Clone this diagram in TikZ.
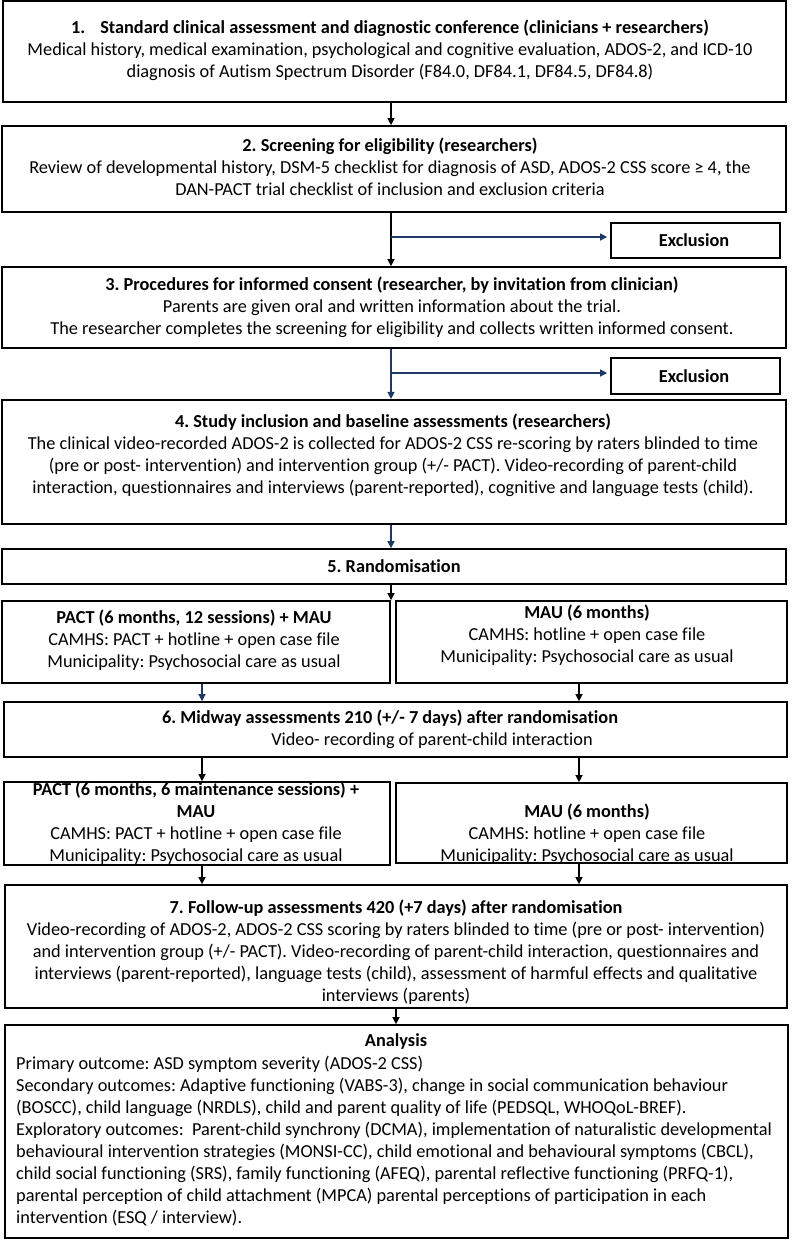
\documentclass[tikz,border=0pt]{standalone}
\usepackage{fontspec}
\setmainfont{Carlito}[Ligatures=NoCommon]
\frenchspacing
\usetikzlibrary{arrows.meta,fit}
\definecolor{navy}{RGB}{31,56,100}

\begin{document}
\begin{tikzpicture}[x=1pt,y=-1pt,
  box/.style={draw,line width=1.7pt,inner sep=0pt},
  txt/.style={align=center,inner sep=0pt,font=\fontsize{18.3}{22}\selectfont},
  arr/.style={line width=1.3pt,-{Triangle[length=7pt,width=7pt]}},
  blu/.style={arr,draw=navy}]

 \useasboundingbox (0,0) rectangle (792,1240);

% Boxes, top to bottom
 \node[box,line width=2.4pt,fit={(3,1) (786,102)}] (b1) {};
 \node[box,fit={(2,126) (786,212)}] (b2) {};
 \node[box,fit={(611,223) (780,258)}] (ex1) {};
 \node[box,fit={(2,267) (786,348)}] (b3) {};
 \node[box,fit={(611,358) (780,394)}] (ex2) {};
 \node[box,line width=2.2pt,fit={(2,400) (786,524)}] (b4) {};
 \node[box,fit={(2,549) (786,584)}] (b5) {};
 \node[box,fit={(2,601) (390,683)}] (p1) {}; % PACT arm
 \node[box,fit={(396,601) (787,683)}] (m1) {}; % MAU arm
 \node[box,fit={(4,702) (787,757)}] (b6) {};
 \node[box,fit={(4,782) (390,865)}] (p2) {};
 \node[box,fit={(396,783) (787,863)}] (m2) {};
 \node[box,fit={(5,885) (787,1008)}] (b7) {};
 \node[box,fit={(5,1025) (788,1238)}] (an) {};

% Texts
 \node[txt] (t1) at (390,50) {\textbf{1.\hspace{15pt}Standard clinical assessment and diagnostic conference (clinicians + researchers)}\\
   Medical history, medical examination, psychological and cognitive evaluation, ADOS-2, and ICD-10\\
   diagnosis of Autism Spectrum Disorder (F84.0, DF84.1, DF84.5, DF84.8)};
 \node[txt] (t2) at (390,167) {\textbf{2. Screening for eligibility (researchers)}\\
   Review of developmental history, DSM-5 checklist for diagnosis of ASD, ADOS-2 CSS score ≥ 4, the\\
   DAN-PACT trial checklist of inclusion and exclusion criteria};
 \node[txt] (tex1) at (694,240.5) {\textbf{Exclusion}};
 \node[txt] (t3) at (392,307.5) {\textbf{3. Procedures for informed consent (researcher, by invitation from clinician)}\\
   Parents are given oral and written information about the trial.\\
   The researcher completes the screening for eligibility and collects written informed consent.};
 \node[txt] (tex2) at (694,376) {\textbf{Exclusion}};
 \node[txt] (t4) at (393,455.5) {\textbf{4. Study inclusion and baseline assessments (researchers)}\\
   The clinical video-recorded ADOS-2 is collected for ADOS-2 CSS re-scoring by raters blinded to time\\
   (pre or post- intervention) and intervention group (+/- PACT). Video-recording of parent-child\\
   interaction, questionnaires and interviews (parent-reported), cognitive and language tests (child).};
 \node[txt] (t5) at (394,566) {\textbf{5. Randomisation}};
 \node[txt] (tp1) at (194,640) {\textbf{PACT (6 months, 12 sessions) + MAU}\\
   CAMHS: PACT + hotline + open case file\\
   Municipality: Psychosocial care as usual};
 \node[txt] (tm1) at (587,635) {\textbf{MAU (6 months)}\\
   CAMHS: hotline + open case file\\
   Municipality: Psychosocial care as usual};
 \node[txt] (t6) at (390,729) {\textbf{6. Midway assessments 210 (+/- 7 days) after randomisation}\\
   \hspace*{84pt}Video- recording of parent-child interaction};
 \node[txt] (tp2) at (196,823) {\textbf{PACT (6 months, 6 maintenance sessions) +}\\
   \textbf{MAU}\\
   CAMHS: PACT + hotline + open case file\\
   Municipality: Psychosocial care as usual};
 \node[txt] (tm2) at (587,834.5) {\textbf{MAU (6 months)}\\
   CAMHS: hotline + open case file\\
   Municipality: Psychosocial care as usual};
 \node[txt] (t7) at (396,952.5) {\textbf{7. Follow-up assessments 420 (+7 days) after randomisation}\\
   Video-recording of ADOS-2, ADOS-2 CSS scoring by raters blinded to time (pre or post- intervention)\\
   and intervention group (+/- PACT). Video-recording of parent-child interaction, questionnaires and\\
   interviews (parent-reported), language tests (child), assessment of harmful effects and qualitative\\
   interviews (parents)};
 \node[txt] (tan) at (396,1042) {\textbf{Analysis}};
 \node[txt,align=left,anchor=west] (tout) at (16,1141.5) {Primary outcome: ASD symptom severity (ADOS-2 CSS)\\
   Secondary outcomes: Adaptive functioning (VABS-3), change in social communication behaviour\\
   (BOSCC), child language (NRDLS), child and parent quality of life (PEDSQL, WHOQoL-BREF).\\
   Exploratory outcomes:\ \ Parent-child synchrony (DCMA), implementation of naturalistic developmental\\
   behavioural intervention strategies (MONSI-CC), child emotional and behavioural symptoms (CBCL),\\
   child social functioning (SRS), family functioning (AFEQ), parental reflective functioning (PRFQ-1),\\
   parental perception of child attachment (MPCA) parental perceptions of participation in each\\
   intervention (ESQ / interview).};

% Arrow columns
 \coordinate (colC) at (391,0);
 \coordinate (colL) at (202,0);
 \coordinate (colR) at (579,0);
 \coordinate (colA) at (396,0);
 \coordinate (j1) at (391,237); % branch to first exclusion
 \coordinate (j2) at (391,373); % branch to second exclusion

 \draw[arr] (b1.south -| colC) -- (b2.north -| colC);
 \draw[arr] (b2.south -| colC) -- (b3.north -| colC);
 \draw[blu,shorten >=3pt] (j1) -- (j1 -| ex1.west);
 \draw[blu] (b3.south -| colC) -- (b4.north -| colC);
 \draw[blu,shorten >=3pt] (j2) -- (j2 -| ex2.west);
 \draw[blu] (b4.south -| colC) -- (b5.north -| colC);
 \draw[arr] (b5.south -| colC) -- (colC |- p1.north);

 \draw[blu] (p1.south -| colL) -- (b6.north -| colL);
 \draw[arr] (m1.south -| colR) -- (b6.north -| colR);
 \draw[arr] (b6.south -| colL) -- (p2.north -| colL);
 \draw[arr] (b6.south -| colR) -- (m2.north -| colR);
 \draw[arr] (p2.south -| colL) -- (b7.north -| colL);
 \draw[arr] (m2.south -| colR) -- (b7.north -| colR);
 \draw[arr] (b7.south -| colA) -- (an.north -| colA);

\end{tikzpicture}
\end{document}
